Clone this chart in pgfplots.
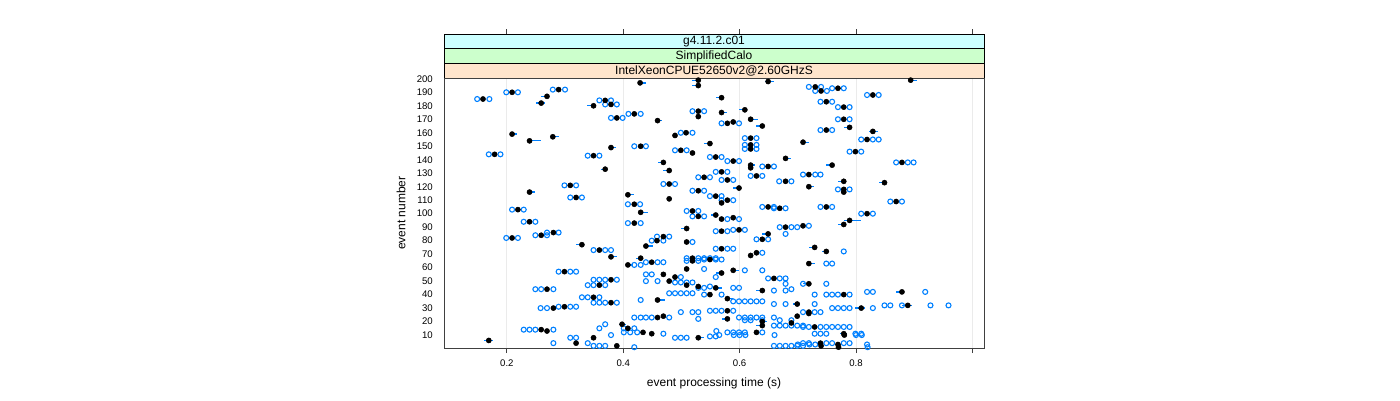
\documentclass[border=0pt]{standalone}
\usepackage{fontspec}
\setmainfont{Liberation Sans}
\usepackage{pgfplots}
\usepackage{pgfplotstable}
\pgfplotsset{compat=1.18}
\definecolor{lblue}{HTML}{0080FF}
\definecolor{sA}{HTML}{FFE5CC}
\definecolor{sB}{HTML}{CCFFCC}
\definecolor{sC}{HTML}{CCFFFF}

\pgfplotstableread{
x y
0.149 185
0.170 185
0.199 190
0.219 190
0.279 192
0.300 192
0.359 184
0.379 184
0.369 181
0.389 181
0.379 171
0.399 171
0.169 144
0.189 144
0.339 143
0.359 143
0.409 174
0.430 174
0.519 176
0.539 176
0.569 167
0.599 167
0.499 160
0.519 160
0.419 150
0.439 150
0.489 147
0.509 147
0.609 156
0.629 156
0.609 151
0.629 151
0.609 148
0.629 148
0.549 142
0.569 142
0.579 139
0.599 139
0.639 135
0.659 135
0.719 194
0.740 194
0.730 191
0.750 191
0.759 193
0.779 193
0.819 188
0.839 188
0.739 183
0.759 183
0.769 179
0.789 179
0.769 170
0.789 170
0.739 162
0.759 162
0.809 155
0.829 155
0.839 155
0.789 146
0.809 146
0.869 138
0.889 138
0.899 138
0.299 121
0.319 121
0.309 112
0.329 112
0.209 103
0.229 103
0.229 94
0.249 94
0.249 84
0.269 84
0.269 86
0.289 86
0.199 82
0.219 82
0.349 73
0.369 73
0.379 73
0.559 131
0.579 131
0.529 127
0.549 127
0.569 125
0.589 125
0.619 128
0.639 128
0.668 124
0.689 124
0.469 122
0.489 122
0.519 117
0.539 117
0.549 113
0.569 113
0.569 110
0.589 110
0.408 107
0.429 107
0.509 102
0.529 102
0.519 98
0.539 98
0.579 96
0.599 96
0.639 105
0.659 105
0.659 104
0.679 104
0.408 93
0.430 93
0.559 87
0.579 87
0.589 88
0.609 88
0.669 90
0.689 90
0.699 90
0.629 81
0.649 81
0.679 85
0.458 83
0.479 83
0.449 80
0.469 80
0.519 79
0.559 74
0.579 74
0.589 74
0.509 67
0.529 67
0.539 67
0.549 67
0.559 67
0.639 71
0.709 129
0.730 129
0.739 129
0.769 118
0.789 118
0.739 105
0.759 105
0.859 109
0.879 109
0.809 100
0.829 100
0.719 91
0.779 72
0.289 57
0.309 57
0.319 57
0.349 51
0.359 51
0.369 51
0.389 51
0.339 47
0.349 47
0.369 47
0.249 44
0.259 44
0.280 44
0.329 38
0.339 38
0.359 38
0.349 34
0.359 34
0.369 34
0.389 34
0.289 31
0.309 31
0.319 31
0.258 30
0.269 30
0.229 14
0.239 14
0.249 14
0.280 14
0.280 4
0.339 4
0.309 8
0.319 8
0.369 18
0.359 15
0.379 10
0.349 2
0.359 2
0.369 2
0.439 64
0.459 64
0.469 64
0.419 62
0.430 62
0.509 65
0.529 65
0.539 66
0.559 66
0.569 66
0.539 59
0.559 53
0.609 58
0.639 58
0.649 52
0.669 52
0.679 52
0.679 48
0.439 55
0.449 55
0.439 50
0.459 50
0.499 53
0.489 49
0.499 49
0.509 49
0.519 49
0.479 41
0.489 41
0.499 41
0.509 41
0.519 41
0.549 46
0.529 45
0.539 45
0.589 45
0.599 45
0.659 43
0.679 43
0.689 44
0.539 40
0.569 40
0.589 35
0.599 35
0.609 35
0.619 35
0.629 35
0.639 35
0.430 36
0.659 33
0.679 33
0.549 28
0.559 28
0.569 28
0.589 28
0.499 27
0.519 27
0.529 27
0.529 22
0.599 23
0.609 23
0.619 23
0.629 23
0.639 23
0.659 23
0.609 21
0.619 21
0.639 21
0.669 21
0.689 21
0.659 17
0.669 17
0.679 17
0.689 17
0.699 17
0.709 17
0.419 23
0.430 23
0.439 23
0.449 23
0.479 23
0.401 15
0.419 15
0.401 12
0.412 12
0.424 12
0.469 11
0.489 8
0.499 8
0.509 8
0.549 9
0.559 9
0.579 12
0.589 12
0.599 12
0.609 12
0.639 12
0.590 10
0.600 10
0.610 10
0.660 10
0.560 13
0.565 10
0.659 2
0.669 2
0.679 2
0.689 2
0.699 2
0.709 2
0.700 3
0.720 3
0.730 3
0.419 1
0.749 63
0.759 63
0.749 48
0.709 48
0.729 40
0.749 40
0.759 40
0.769 40
0.789 40
0.819 42
0.829 42
0.919 42
0.729 33
0.759 30
0.769 30
0.779 30
0.789 30
0.829 30
0.849 32
0.859 32
0.879 32
0.928 32
0.959 32
0.709 27
0.729 27
0.739 27
0.709 16
0.719 16
0.739 16
0.749 16
0.759 16
0.769 16
0.779 16
0.789 16
0.729 11
0.739 11
0.749 11
0.799 11
0.809 11
0.709 4
0.719 4
0.749 4
0.759 4
0.779 4
0.789 4
0.819 3
0.800 10
0.810 10
0.820 1
}\circles

\pgfplotstableread{
x y lo hi
0.159 185 0.004 0.004
0.209 190 0.004 0.004
0.269 187 0.010 0.002
0.289 192 0.004 0.004
0.259 182 0.009 0.006
0.369 184 0.004 0.004
0.379 181 0.004 0.004
0.349 180 0.011 0.002
0.389 171 0.004 0.004
0.209 159 0.002 0.008
0.239 154 0.002 0.020
0.279 157 0.002 0.010
0.379 149 0.002 0.008
0.179 144 0.004 0.004
0.349 143 0.004 0.004
0.369 133 0.008 0.002
0.429 197 0.002 0.010
0.529 199 0.010 0.002
0.529 195 0.010 0.002
0.649 198 0.006 0.010
0.569 186 0.010 0.004
0.419 174 0.004 0.004
0.459 169 0.002 0.008
0.529 176 0.004 0.004
0.529 172 0.002 0.002
0.569 175 0.002 0.010
0.609 177 0.010 0.002
0.619 170 0.002 0.012
0.579 167 0.004 0.004
0.589 168 0.004 0.004
0.639 165 0.010 0.002
0.489 158 0.004 0.004
0.508 160 0.004 0.004
0.430 150 0.004 0.004
0.549 152 0.010 0.002
0.499 147 0.004 0.004
0.519 145 0.004 0.004
0.619 156 0.004 0.004
0.619 151 0.004 0.004
0.619 148 0.004 0.004
0.559 142 0.004 0.004
0.589 139 0.004 0.004
0.469 138 0.010 0.002
0.679 141 0.002 0.010
0.619 136 0.002 0.008
0.649 135 0.004 0.004
0.479 132 0.010 0.002
0.894 199 0.002 0.010
0.730 194 0.004 0.004
0.740 191 0.004 0.004
0.769 193 0.004 0.004
0.829 188 0.004 0.004
0.749 183 0.004 0.004
0.779 179 0.004 0.004
0.779 170 0.004 0.004
0.749 162 0.004 0.004
0.789 164 0.010 0.002
0.829 161 0.006 0.008
0.709 153 0.002 0.010
0.819 155 0.004 0.004
0.799 146 0.004 0.004
0.759 136 0.010 0.002
0.879 138 0.004 0.004
0.309 121 0.004 0.004
0.239 116 0.002 0.010
0.319 112 0.004 0.004
0.219 103 0.004 0.004
0.239 94 0.004 0.004
0.259 84 0.004 0.004
0.280 86 0.004 0.004
0.209 82 0.004 0.004
0.329 77 0.010 0.002
0.359 73 0.004 0.004
0.379 68 0.002 0.010
0.569 131 0.004 0.004
0.539 127 0.004 0.004
0.579 125 0.004 0.004
0.629 128 0.004 0.004
0.619 134 0.004 0.004
0.679 124 0.004 0.004
0.479 122 0.004 0.004
0.599 119 0.010 0.002
0.529 117 0.004 0.004
0.408 114 0.002 0.010
0.559 113 0.004 0.004
0.479 111 0.002 0.004
0.579 110 0.004 0.004
0.569 108 0.004 0.004
0.419 107 0.004 0.004
0.430 101 0.002 0.012
0.519 102 0.004 0.004
0.529 98 0.004 0.004
0.559 99 0.008 0.002
0.569 96 0.004 0.004
0.589 97 0.004 0.004
0.649 105 0.004 0.004
0.669 104 0.004 0.004
0.419 93 0.004 0.004
0.509 89 0.010 0.002
0.569 87 0.004 0.004
0.599 88 0.004 0.004
0.679 90 0.004 0.004
0.639 81 0.004 0.004
0.649 85 0.010 0.002
0.469 83 0.004 0.004
0.458 80 0.004 0.004
0.509 79 0.004 0.004
0.439 76 0.002 0.012
0.569 74 0.004 0.004
0.430 67 0.008 0.002
0.519 67 0.004 0.004
0.619 69 0.004 0.004
0.629 71 0.004 0.004
0.719 129 0.004 0.004
0.779 124 0.010 0.002
0.849 123 0.010 0.002
0.719 120 0.002 0.008
0.779 118 0.004 0.004
0.779 116 0.004 0.004
0.749 105 0.004 0.004
0.869 109 0.004 0.004
0.819 100 0.004 0.004
0.789 95 0.010 0.020
0.779 92 0.010 0.002
0.709 91 0.004 0.004
0.729 75 0.010 0.002
0.749 72 0.008 0.002
0.299 57 0.004 0.004
0.379 51 0.004 0.004
0.359 47 0.004 0.004
0.269 44 0.004 0.004
0.349 38 0.004 0.004
0.379 34 0.004 0.004
0.299 31 0.004 0.004
0.280 30 0.004 0.004
0.259 14 0.004 0.004
0.269 13 0.004 0.004
0.169 6 0.008 0.008
0.319 4 0.004 0.004
0.349 8 0.004 0.004
0.398 18 0.006 0.006
0.389 2 0.004 0.004
0.449 64 0.004 0.004
0.408 62 0.002 0.008
0.519 65 0.004 0.004
0.549 66 0.004 0.004
0.509 59 0.004 0.004
0.569 56 0.010 0.002
0.589 58 0.002 0.010
0.659 52 0.004 0.004
0.469 55 0.004 0.004
0.479 50 0.004 0.004
0.489 53 0.004 0.004
0.509 47 0.004 0.004
0.529 46 0.004 0.004
0.559 45 0.004 0.010
0.639 43 0.010 0.002
0.549 40 0.004 0.004
0.579 37 0.002 0.010
0.459 36 0.002 0.012
0.699 33 0.008 0.004
0.579 28 0.004 0.004
0.579 22 0.010 0.002
0.639 20 0.004 0.008
0.689 19 0.004 0.004
0.639 17 0.010 0.004
0.699 24 0.004 0.004
0.459 23 0.004 0.004
0.469 24 0.004 0.004
0.408 15 0.004 0.004
0.434 12 0.006 0.004
0.449 11 0.004 0.004
0.529 8 0.002 0.010
0.629 12 0.004 0.004
0.719 63 0.002 0.010
0.719 48 0.010 0.002
0.779 40 0.004 0.004
0.879 42 0.010 0.004
0.809 30 0.010 0.006
0.889 32 0.010 0.008
0.719 27 0.004 0.004
0.719 26 0.004 0.004
0.729 16 0.004 0.004
0.779 11 0.006 0.006
0.739 4 0.004 0.004
0.769 3 0.004 0.004
0.740 2 0.004 0.004
0.770 1 0.004 0.004
0.780 10 0.004 0.004
}\means

\begin{document}
\begin{tikzpicture}
\useasboundingbox (-444pt,-52pt) rectangle (956pt,348pt);
\begin{axis}[
  scale only axis, width=540pt, height=270pt,
  xmin=0.092, xmax=1.020, ymin=0.4, ymax=200.6,
  clip=false,
  axis line style={draw=black!75, line width=0.8pt},
  xtick={0.2,0.4,0.6,0.8,1.0},
  xticklabels={0.2,0.4,0.6,0.8,{}},
  ytick={10,20,...,200},
  tick align=outside, xtick pos=bottom, ytick pos=left,
  major tick length=5pt,
  xtick style={draw=black!75, line width=0.8pt},
  ytick style={draw=none},
  /pgf/number format/assume math mode=true,
  tick label style={font=\fontsize{9.6}{11}\selectfont},
  yticklabel style={anchor=east, inner sep=0pt, xshift=-6pt},
  xticklabel style={anchor=base, inner sep=0pt, yshift=-13.5pt},
  xticklabel shift=0pt,
  xmajorgrids, major grid style={black!8, line width=0.8pt},
  xlabel={event processing time (s)},
  ylabel={event number},
  label style={font=\fontsize{12}{14}\selectfont},
  xlabel style={at={(axis description cs:0.5,-0.1296)}, anchor=center},
  ylabel style={at={(axis description cs:-0.0796,0.5)}, anchor=center},
]
\addplot[only marks, mark=o, mark size=2.5pt, lblue, mark options={line width=1.1pt}] table[x=x,y=y] {\circles};
\addplot[only marks, mark=none, error bars/.cd, x dir=both, x explicit, error mark=none,
  error bar style={lblue, line width=1.3pt}] table[x=x, y=y, x error plus=hi, x error minus=lo] {\means};
\addplot[only marks, mark=*, mark size=2.6pt, black] table[x=x,y=y] {\means};
\draw[fill=sA, draw=black, line width=0.6pt] (rel axis cs:0,1) rectangle ([yshift=14.7pt]rel axis cs:1,1);
\draw[fill=sB, draw=black, line width=0.6pt] ([yshift=14.7pt]rel axis cs:0,1) rectangle ([yshift=29.3pt]rel axis cs:1,1);
\draw[fill=sC, draw=black, line width=0.6pt] ([yshift=29.3pt]rel axis cs:0,1) rectangle ([yshift=44pt]rel axis cs:1,1);
\node[font=\fontsize{12}{14}\selectfont, inner sep=0pt] at ([yshift=7.3pt]rel axis cs:0.5,1) {IntelXeonCPUE52650v2@2.60GHzS};
\node[font=\fontsize{12}{14}\selectfont, inner sep=0pt] at ([yshift=22pt]rel axis cs:0.5,1) {SimplifiedCalo};
\node[font=\fontsize{12}{14}\selectfont, inner sep=0pt] at ([yshift=36.7pt]rel axis cs:0.5,1) {g4.11.2.c01};
\pgfplotsinvokeforeach{0.2,0.4,0.6,0.8,1.0}{
  \draw[black!75, line width=0.8pt] ([yshift=44pt]axis cs:#1,200.6) -- ([yshift=49pt]axis cs:#1,200.6);
}
\draw[black!75, line width=0.8pt] (rel axis cs:0,0) rectangle (rel axis cs:1,1);
\end{axis}
\end{tikzpicture}
\end{document}
